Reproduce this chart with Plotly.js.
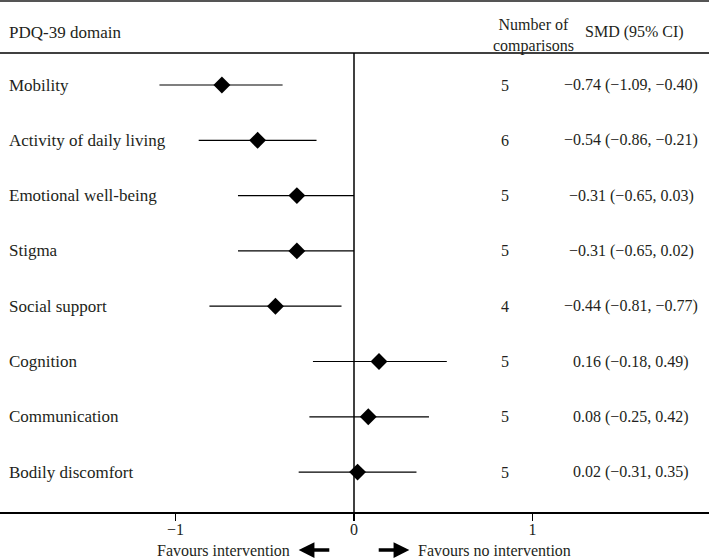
<!DOCTYPE html>
<html>
<head>
<meta charset="utf-8">
<script src="https://cdn.plot.ly/plotly-3.0.1.min.js"></script>
<style>html,body{margin:0;padding:0;background:#fff;}#chart{width:709px;height:558px;}</style>
</head>
<body>
<div id="chart"></div>
<script>
// Data
const domains = ["Mobility", "Activity of daily living", "Emotional well-being", "Stigma",
  "Social support", "Cognition", "Communication", "Bodily discomfort"];
const smd = [-0.74, -0.54, -0.32, -0.32, -0.44, 0.14, 0.08, 0.02];
const ciLow = [-1.09, -0.87, -0.65, -0.65, -0.81, -0.23, -0.25, -0.31];
const ciHigh = [-0.40, -0.21, 0.00, 0.00, -0.07, 0.52, 0.42, 0.35];
const nComparisons = [5, 6, 5, 5, 4, 5, 5, 5];
const smdLabels = ["\u22120.74 (\u22121.09, \u22120.40)", "\u22120.54 (\u22120.86, \u22120.21)",
  "\u22120.31 (\u22120.65, 0.03)", "\u22120.31 (\u22120.65, 0.02)", "\u22120.44 (\u22120.81, \u22120.77)",
  "0.16 (\u22120.18, 0.49)", "0.08 (\u22120.25, 0.42)", "0.02 (\u22120.31, 0.35)"];
const tickVals = [-1, 0, 1];
const tickText = ["\u22121", "0", "1"];

const FONT = "Liberation Serif, Times New Roman, serif";
const TXT = "#231f20";
const LBL = 17, NUM = 16;
const rowIdx = domains.map((d, i) => i);

const trace = {
  type: "scatter", mode: "markers",
  x: smd, y: rowIdx,
  marker: {symbol: "diamond", size: 13, color: "#000"},
  error_x: {
    type: "data", symmetric: false,
    array: smd.map((v, i) => ciHigh[i] - v),
    arrayminus: smd.map((v, i) => v - ciLow[i]),
    color: "#000", thickness: 1.2, width: 0
  },
  hoverinfo: "skip", showlegend: false, cliponaxis: false
};

const annotations = [];
domains.forEach((d, i) => {
  annotations.push({xref: "paper", yref: "y", x: 7/709, y: i, text: d, showarrow: false,
    xanchor: "left", yanchor: "middle", font: {family: FONT, size: LBL, color: TXT}});
  annotations.push({xref: "paper", yref: "y", x: 505/709, y: i, text: String(nComparisons[i]), showarrow: false,
    xanchor: "center", yanchor: "middle", font: {family: FONT, size: NUM, color: TXT}});
  annotations.push({xref: "paper", yref: "y", x: 631/709, y: i, text: smdLabels[i], showarrow: false,
    xanchor: "center", yanchor: "middle", font: {family: FONT, size: NUM, color: TXT}});
});
// headers
annotations.push({xref: "paper", yref: "paper", x: 7/709, y: 1 - 32/512, text: "PDQ-39 domain", showarrow: false,
  xanchor: "left", yanchor: "middle", font: {family: FONT, size: LBL, color: TXT}});
annotations.push({xref: "paper", yref: "paper", x: 533/709, y: 1 - 35/512, text: "Number of<br>comparisons", showarrow: false,
  xanchor: "center", yanchor: "middle", align: "center", font: {family: FONT, size: NUM, color: TXT}});
annotations.push({xref: "paper", yref: "paper", x: 634/709, y: 1 - 32/512, text: "SMD (95% CI)", showarrow: false,
  xanchor: "center", yanchor: "middle", font: {family: FONT, size: NUM, color: TXT}});
// favours labels
annotations.push({xref: "x", yref: "paper", x: -0.35, y: -38/512, text: "Favours intervention", showarrow: false,
  xanchor: "right", yanchor: "middle", font: {family: FONT, size: NUM, color: TXT}});
annotations.push({xref: "x", yref: "paper", x: 0.35, y: -38/512, text: "Favours no intervention", showarrow: false,
  xanchor: "left", yanchor: "middle", font: {family: FONT, size: NUM, color: TXT}});
annotations.push({xref: "x", yref: "paper", x: -0.31, y: -38/512, axref: "x", ayref: "paper", ax: -0.13, ay: -38/512,
  text: "", showarrow: true, arrowhead: 2, arrowsize: 0.9, arrowwidth: 3.5, arrowcolor: "#000"});
annotations.push({xref: "x", yref: "paper", x: 0.31, y: -38/512, axref: "x", ayref: "paper", ax: 0.13, ay: -38/512,
  text: "", showarrow: true, arrowhead: 2, arrowsize: 0.9, arrowwidth: 3.5, arrowcolor: "#000"});

const layout = {
  width: 709, height: 558,
  margin: {l: 0, r: 0, t: 0, b: 46},
  paper_bgcolor: "#fff", plot_bgcolor: "#fff",
  font: {family: FONT, size: NUM, color: TXT},
  xaxis: {
    range: [-354/178.5, (709-354)/178.5], autorange: false,
    showgrid: false, zeroline: false,
    showline: true, linecolor: "#000", linewidth: 2,
    ticks: "outside", ticklen: 7, tickwidth: 1.2, tickcolor: "#000",
    ticklabelstandoff: -5,
    tickvals: tickVals, ticktext: tickText,
    tickfont: {family: FONT, size: NUM, color: TXT}, fixedrange: true
  },
  yaxis: {
    range: [427/55.3, -85/55.3], autorange: false,
    visible: false, showgrid: false, zeroline: false, fixedrange: true
  },
  shapes: [
    {type: "line", xref: "paper", yref: "paper", x0: 0, x1: 1, y0: 1, y1: 1, line: {color: "#555", width: 4}},
    {type: "line", xref: "paper", yref: "paper", x0: 0, x1: 1, y0: 1 - 53/512, y1: 1 - 53/512, line: {color: "#000", width: 1.6}},
    {type: "line", xref: "x", yref: "paper", x0: 0, x1: 0, y0: 0, y1: 1 - 53/512, line: {color: "#000", width: 1.5}, layer: "below"}
  ],
  annotations: annotations
};

Plotly.newPlot("chart", [trace], layout, {displayModeBar: false, staticPlot: true});
</script>
</body>
</html>
